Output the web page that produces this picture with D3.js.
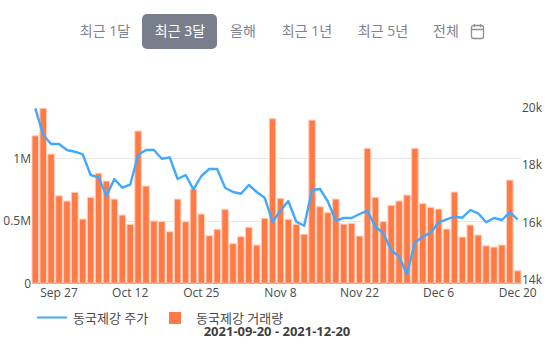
<!DOCTYPE html>
<html>
<head>
<meta charset="utf-8">
<script src="https://cdn.jsdelivr.net/npm/d3@7"></script>
<style>
  html, body { margin: 0; padding: 0; background: #fff; }
  svg { display: block; font-family: "Open Sans", "Noto Sans CJK KR", sans-serif; }
</style>
</head>
<body>
<svg id="chart"></svg>
<script>
const rangeLabels = ["최근 1달", "최근 3달", "올해", "최근 1년", "최근 5년", "전체"];
const activeRange = "최근 3달";

const volume = [1.18, 1.40, 1.034, 0.70, 0.658, 0.728, 0.514, 0.688, 0.88, 0.818, 0.674, 0.546, 0.472, 1.218, 0.778, 0.498,
    0.495, 0.413, 0.674, 0.493, 0.754, 0.554, 0.38, 0.432, 0.592, 0.317, 0.373, 0.448, 0.306, 0.52, 1.317, 0.68,
    0.512, 0.472, 0.392, 1.306, 0.613, 0.565, 0.674, 0.474, 0.48, 0.378, 1.08, 0.688, 0.493, 0.624, 0.658, 0.706,
    1.08, 0.637, 0.608, 0.594, 0.434, 0.73, 0.37, 0.466, 0.386, 0.30, 0.29, 0.306, 0.826, 0.10];

const price = [19961, 19033, 18720, 18720, 18511, 18452, 18361, 17641, 17561, 16911, 17502, 17200, 17304, 18337, 18511, 18511,
    18208, 18257, 17502, 17641, 17144, 17607, 17850, 17850, 17200, 17050, 16991, 17294, 17050, 16852, 16017, 16400,
    16737, 16017, 15878, 17120, 17155, 16713, 16052, 16146, 16146, 16285, 16400, 15843, 15614, 15033, 14800, 14188,
    15301, 15496, 15635, 15996, 16101, 16191, 16156, 16424, 16309, 15996, 16146, 16076, 16344, 16101];

const xTickIndex = [3, 12, 21, 31, 41, 51, 61];
const xTickLabels = ["Sep 27", "Oct 12", "Oct 25", "Nov 8", "Nov 22", "Dec 6", "Dec 20"];
const volumeTicks = [0, 0.5, 1];
const volumeTickLabels = ["0", "0.5M", "1M"];
const priceTicks = [14000, 16000, 18000, 20000];
const priceTickLabels = ["14k", "16k", "18k", "20k"];

const width = 558, height = 351;

const svg = d3.select("#chart").attr("width", width).attr("height", height);

// Range buttons
const rangeX = d3.scaleOrdinal().domain(rangeLabels).range([105, 180, 243, 307, 383, 446]);
const buttons = svg.append("g");
buttons.append("rect")
    .attr("x", 142).attr("y", 14)
    .attr("width", 75).attr("height", 35)
    .attr("rx", 5)
    .attr("fill", "#787e8c");
buttons.selectAll("text")
    .data(rangeLabels)
    .join("text")
    .attr("x", d => rangeX(d))
    .attr("y", 36)
    .attr("text-anchor", "middle")
    .attr("font-size", 14)
    .attr("fill", d => d === activeRange ? "#fff" : "#7c8290")
    .text(d => d);

// Calendar icon
const cal = svg.append("g")
    .attr("transform", "translate(471, 24)")
    .attr("fill", "none")
    .attr("stroke", "#8a8f9b")
    .attr("stroke-width", 1.3);
cal.append("rect").attr("x", 0.5).attr("y", 1.5).attr("width", 12).attr("height", 13).attr("rx", 2);
cal.append("path").attr("d", "M0.5 5.5H12.5M3.5 0V3M9.5 0V3");

// Scales
const xScale = d3.scaleBand()
    .domain(d3.range(volume.length))
    .range([32, 521])
    .paddingInner(0.17)
    .paddingOuter(0);

const yVolume = d3.scaleLinear()
    .domain([0, 1])
    .range([283.3, 158.3]);

// the right axis does not share the left axis zero
const yPrice = d3.scaleLinear()
    .domain([14000, 20000])
    .range([279.7, 107.2]);

// Gridlines
svg.append("g")
    .selectAll("line")
    .data(volumeTicks.slice(1))
    .join("line")
    .attr("x1", 32).attr("x2", 521)
    .attr("y1", d => Math.round(yVolume(d)) + 0.5)
    .attr("y2", d => Math.round(yVolume(d)) + 0.5)
    .attr("stroke", "#e9e9e9");

// Baseline shows between the bars
const baseY = Math.round(yVolume(0));
svg.append("line")
    .attr("x1", 32).attr("x2", 521)
    .attr("y1", baseY + 0.5).attr("y2", baseY + 0.5)
    .attr("stroke", "#444");

// Volume bars
svg.append("g")
    .selectAll("rect")
    .data(volume)
    .join("rect")
    .attr("x", (d, i) => xScale(i))
    .attr("y", d => yVolume(d))
    .attr("width", xScale.bandwidth())
    .attr("height", d => yVolume(0) - yVolume(d))
    .attr("fill", "#ff7a45")
    .attr("stroke", "#ffd0bd")
    .attr("stroke-width", 1);

// Price line
const line = d3.line()
    .x((d, i) => xScale(i) + xScale.bandwidth() / 2)
    .y(d => yPrice(d));
svg.append("path")
    .datum(price)
    .attr("d", line)
    .attr("fill", "none")
    .attr("stroke", "#40a9ff")
    .attr("stroke-width", 2.4)
    .attr("stroke-linejoin", "round");

// Axes
const xAxis = svg.append("g")
    .attr("transform", `translate(0, ${baseY - 1})`)
    .call(d3.axisBottom(xScale)
        .tickValues(xTickIndex)
        .tickSize(0)
        .tickPadding(6)
        .tickFormat(d => xTickLabels[xTickIndex.indexOf(d)]));

const leftAxis = svg.append("g")
    .attr("transform", "translate(32, 0)")
    .call(d3.axisLeft(yVolume)
        .tickValues(volumeTicks)
        .tickSize(0)
        .tickPadding(1)
        .tickFormat(d => volumeTickLabels[volumeTicks.indexOf(d)]));

const rightAxis = svg.append("g")
    .attr("transform", "translate(521, 0)")
    .call(d3.axisRight(yPrice)
        .tickValues(priceTicks)
        .tickSize(0)
        .tickPadding(1)
        .tickFormat(d => priceTickLabels[priceTicks.indexOf(d)]));

[xAxis, leftAxis, rightAxis].forEach(a => {
    a.select(".domain").remove();
    a.selectAll("text")
        .attr("font-family", "'Open Sans', sans-serif")
        .attr("font-size", 12)
        .attr("fill", "#4a4a4a");
});

// Legend
svg.append("line")
    .attr("x1", 37).attr("x2", 67)
    .attr("y1", 317.5).attr("y2", 317.5)
    .attr("stroke", "#40a9ff")
    .attr("stroke-width", 2);
svg.append("text")
    .attr("x", 73).attr("y", 323)
    .attr("font-size", 13)
    .attr("fill", "#4a4a4a")
    .text("동국제강 주가");
svg.append("rect")
    .attr("x", 169).attr("y", 312)
    .attr("width", 12).attr("height", 12)
    .attr("fill", "#ff7a45");
svg.append("text")
    .attr("x", 196).attr("y", 323)
    .attr("font-size", 13)
    .attr("fill", "#4a4a4a")
    .text("동국제강 거래량");

// Date range title
svg.append("text")
    .attr("x", 277).attr("y", 336)
    .attr("text-anchor", "middle")
    .attr("font-size", 13)
    .attr("font-weight", 700)
    .attr("fill", "#3f3f3f")
    .text("2021-09-20 - 2021-12-20");
</script>
</body>
</html>
